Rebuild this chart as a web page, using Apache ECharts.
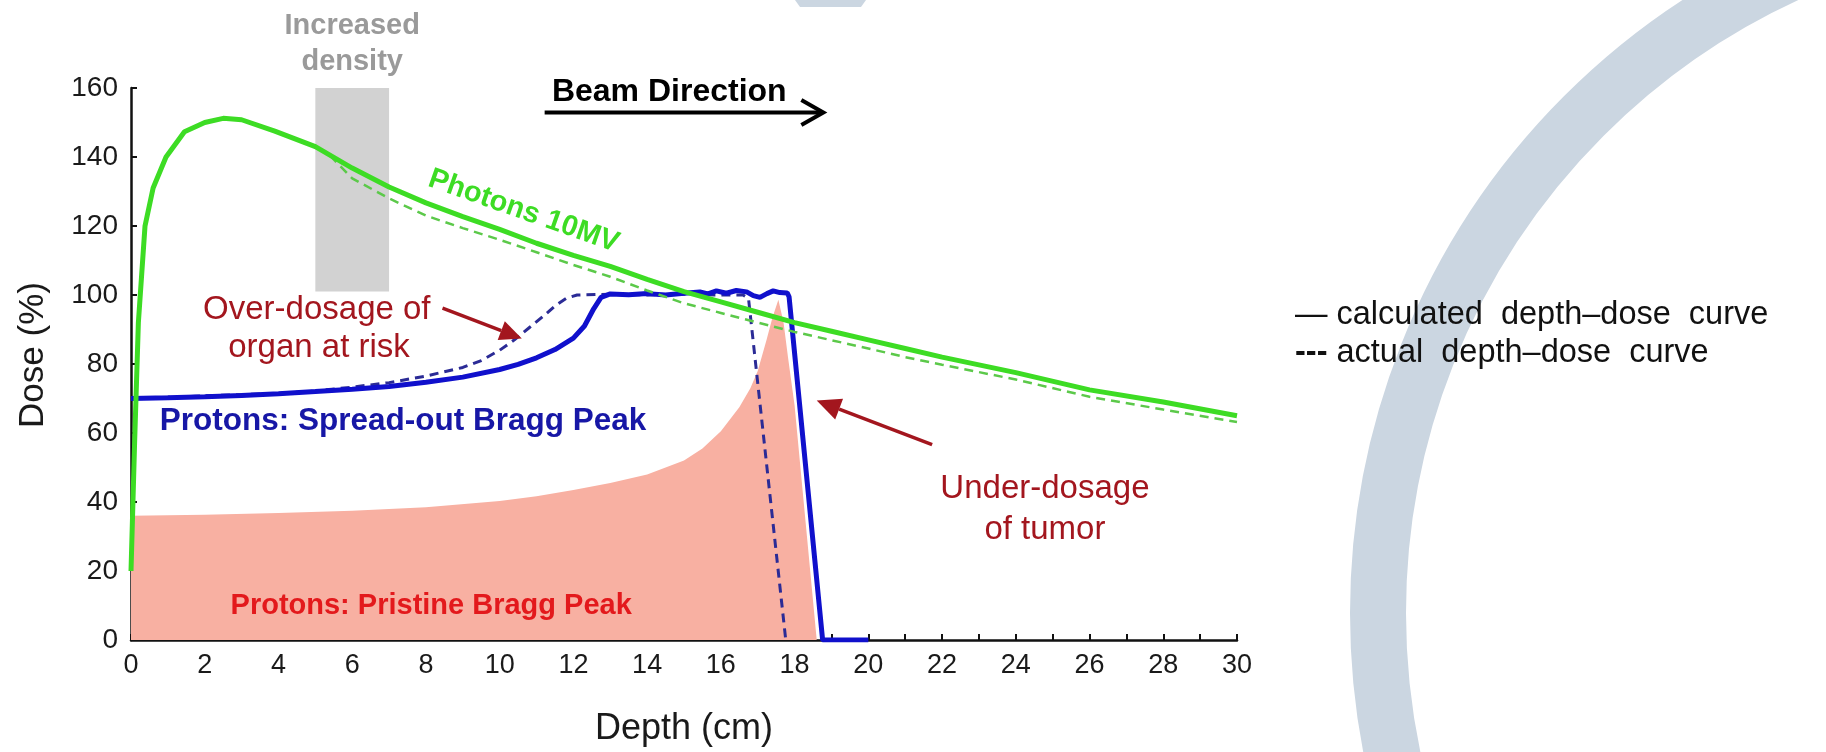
<!DOCTYPE html>
<html>
<head>
<meta charset="utf-8">
<script src="https://cdn.jsdelivr.net/npm/echarts@6/dist/echarts.min.js"></script>
<style>
  html, body { margin: 0; padding: 0; background: #ffffff; }
  #chart { width: 1826px; height: 752px; }
</style>
</head>
<body>
<div id="chart"></div>
<script>
// Depth-dose curves: [depth (cm), dose (%)]
const photonCalculated = [[0,20],[0.1,58],[0.2,92],[0.38,120],[0.6,131],[0.95,140],[1.45,147.3],[2,150],[2.5,151.2],[3,150.8],[3.9,147.5],[5,143],[6,136.8],[7,131.3],[8,126.7],[9,122.7],[10,119],[11,115],[12,111.5],[13,108.3],[14,104.5],[15,101],[16,98],[17,95],[18,92],[19,89.5],[20,87],[21,84.5],[22,82],[24,77.5],[26,72.5],[28,69],[30,65]];
const photonActual = [[5.4,140.4],[6,133.8],[7,128],[8,123],[9,119.4],[10,116],[11,112.4],[12,108.7],[13,105.3],[14,101.3],[15,97.6],[16,94.8],[17,92],[18,89.3],[20,84.5],[21,82],[22,79.8],[24,75.5],[26,70.5],[28,66.8],[30,63.2]];
const sobpCalculated = [[0,70],[1,70.2],[2,70.5],[3,70.9],[4,71.4],[5,72],[6,72.7],[7,73.5],[8,74.7],[9,76.2],[10,78.4],[10.5,79.9],[11,81.8],[11.5,84.2],[12,87.5],[12.3,91],[12.55,96],[12.75,99.3],[13,100.3],[13.5,100.1],[14,100.4],[14.5,100],[15,100.5],[15.43,100.9],[15.65,100.3],[15.88,101.2],[16.15,100.5],[16.42,101.3],[16.7,100.9],[16.88,99.8],[17.06,99.3],[17.25,100.4],[17.42,101.2],[17.6,100.7],[17.8,100.6],[17.85,99.5],[18.76,0],[20,0]];
const sobpActual = [[0,70],[4,71.5],[5,72.2],[6,73.3],[7,74.6],[8,76.5],[9,79],[9.5,81],[10,84],[10.4,87],[10.8,90.5],[11.2,94],[11.5,96.8],[11.8,99],[12.1,100],[13,100.2],[14,100],[15,100.2],[16,100],[16.6,100],[16.75,99],[17.76,0]];
const pristinePeak = [[0,36],[2,36.3],[4,36.8],[6,37.5],[8,38.5],[10,40.3],[11,41.7],[12,43.5],[13,45.5],[14,48],[15,52],[15.5,55.5],[16,60.5],[16.5,67.5],[16.8,73],[17,78],[17.24,87],[17.4,93.5],[17.56,98.6],[17.7,92],[17.82,82],[18,68],[18.3,34],[18.6,0]];
// Shaded region of increased density: depth range and dose range
const densityDepth = [5, 7];
const densityDose = [101, 160];
// Axis labels
const depthLabels = [0,2,4,6,8,10,12,14,16,18,20,22,24,26,28,30];
const doseLabels = [0,20,40,60,80,100,120,140,160];

const FONT = '"Liberation Sans", Arial, Helvetica, sans-serif';
const GREEN = '#3ddc24';
const GREEN_DASH = '#5cc94a';
const BLUE = '#1010cc';
const BLUE_DASH = '#2b2b96';
const SALMON = '#f8b0a2';
const DARK_RED = '#a3161e';

const chart = echarts.init(document.getElementById('chart'), null, { renderer: 'canvas' });

const option = {
  animation: false,
  backgroundColor: '#ffffff',
  grid: { left: 131, right: 589, top: 88, bottom: 104 },
  xAxis: {
    type: 'value', min: 0, max: 30, interval: 1,
    name: 'Depth (cm)', nameLocation: 'middle', nameGap: 71,
    nameTextStyle: { fontSize: 36, color: '#1a1a1a', fontFamily: FONT },
    axisLine: { show: true, onZero: false, lineStyle: { color: '#111', width: 2.5 } },
    axisTick: { show: true, inside: true, length: 6, lineStyle: { color: '#111', width: 2 } },
    axisLabel: {
      fontSize: 27, color: '#1a1a1a', fontFamily: FONT, margin: 12,
      formatter: v => depthLabels.includes(v) ? String(v) : ''
    },
    splitLine: { show: false }
  },
  yAxis: {
    type: 'value', min: 0, max: 160, interval: 20,
    name: 'Dose (%)', nameLocation: 'middle', nameGap: 80,
    nameTextStyle: { fontSize: 35, color: '#1a1a1a', fontFamily: FONT, padding: [0, 0, 0, 18] },
    axisLine: { show: true, lineStyle: { color: '#111', width: 2.5 } },
    axisTick: { show: true, inside: true, length: 6, lineStyle: { color: '#111', width: 2 } },
    axisLabel: {
      fontSize: 28, color: '#1a1a1a', fontFamily: FONT, margin: 13,
      formatter: v => doseLabels.includes(v) ? String(v) : ''
    },
    splitLine: { show: false }
  },
  series: [
    {
      name: 'Protons: Pristine Bragg Peak', type: 'line', data: pristinePeak,
      showSymbol: false, smooth: false, z: 1,
      lineStyle: { width: 0, color: SALMON },
      areaStyle: { color: SALMON, opacity: 1 },
      markArea: {
        silent: true,
        itemStyle: { color: '#d2d2d2', opacity: 1 },
        data: [[{ xAxis: densityDepth[0], yAxis: densityDose[0] }, { xAxis: densityDepth[1], yAxis: densityDose[1] }]]
      }
    },
    {
      name: 'SOBP actual', type: 'line', data: sobpActual, showSymbol: false, z: 3,
      lineStyle: { color: BLUE_DASH, width: 3, type: [9, 6] }
    },
    {
      name: 'SOBP calculated', type: 'line', data: sobpCalculated, showSymbol: false, z: 4,
      lineStyle: { color: BLUE, width: 5 }
    },
    {
      name: 'Photons actual', type: 'line', data: photonActual, showSymbol: false, z: 5,
      lineStyle: { color: GREEN_DASH, width: 2.5, type: [9, 6] }
    },
    {
      name: 'Photons 10MV', type: 'line', data: photonCalculated, showSymbol: false, z: 6,
      lineStyle: { color: GREEN, width: 5 }
    }
  ]
};

chart.setOption(option);

const px = (x, y) => chart.convertToPixel({ gridIndex: 0 }, [x, y]);

function label(text, at, font, fill, align, rotation) {
  const p = px(at[0], at[1]);
  return {
    type: 'text', x: p[0], y: p[1], rotation: rotation || 0, z: 20, silent: true,
    style: { text, font, fill, align: align || 'center', textAlign: align || 'center', verticalAlign: 'middle', textVerticalAlign: 'middle' }
  };
}

function arrow(from, to, color, width, headLen, headHalf) {
  const a = px(from[0], from[1]);
  const b = px(to[0], to[1]);
  const dx = b[0] - a[0], dy = b[1] - a[1];
  const L = Math.hypot(dx, dy), ux = dx / L, uy = dy / L;
  const bx = b[0] - ux * headLen, by = b[1] - uy * headLen;
  return [
    { type: 'line', z: 20, silent: true, shape: { x1: a[0], y1: a[1], x2: bx, y2: by }, style: { stroke: color, lineWidth: width } },
    { type: 'polygon', z: 20, silent: true, shape: { points: [[b[0], b[1]], [bx - uy * headHalf, by + ux * headHalf], [bx + uy * headHalf, by - ux * headHalf]] }, style: { fill: color } }
  ];
}

function beamArrow(x0, x1, y) {
  const a = px(x0, y), b = px(x1, y);
  return [
    { type: 'line', z: 20, silent: true, shape: { x1: a[0], y1: a[1], x2: b[0] - 2, y2: b[1] }, style: { stroke: '#000', lineWidth: 4 } },
    { type: 'polyline', z: 20, silent: true, shape: { points: [[b[0] - 22, b[1] - 12.5], [b[0], b[1]], [b[0] - 22, b[1] + 12.5]] }, style: { stroke: '#000', lineWidth: 4, fill: null } }
  ];
}

const keyStyle = { fill: '#111', align: 'left', textAlign: 'left', verticalAlign: 'middle', textVerticalAlign: 'middle' };

const graphics = [
  // slide decoration behind the figure
  { type: 'circle', z: -10, silent: true, shape: { cx: 2081, cy: 613, r: 703 }, style: { fill: null, stroke: '#cbd6e1', lineWidth: 56 } },
  { type: 'polygon', z: -10, silent: true, shape: { points: [[795, 0], [866, 0], [861, 7], [800, 7]] }, style: { fill: '#cbd6e1' } },

  label('Increased', [6, 178], 'bold 29px ' + FONT, '#9a9a9a'),
  label('density', [6, 167.4], 'bold 29px ' + FONT, '#9a9a9a'),
  label('Beam Direction', [14.6, 158.8], 'bold 32px ' + FONT, '#000'),
  ...beamArrow(11.22, 18.78, 152.9),
  label('Photons 10MV', [10.65, 124.3], 'bold 29px ' + FONT, GREEN, 'center', -19.4 * Math.PI / 180),
  label('Over-dosage of', [5.04, 95.7], '33px ' + FONT, DARK_RED),
  label('organ at risk', [5.1, 84.6], '33px ' + FONT, DARK_RED),
  ...arrow([8.45, 96.2], [10.6, 87.4], DARK_RED, 3.5, 22, 10),
  label('Protons: Spread-out Bragg Peak', [0.78, 63.3], 'bold 31.5px ' + FONT, '#1717a6', 'left'),
  label('Protons: Pristine Bragg Peak', [2.7, 9.9], 'bold 29px ' + FONT, '#e3191c', 'left'),
  label('Under-dosage', [24.79, 43.7], '33px ' + FONT, DARK_RED),
  label('of tumor', [24.79, 32], '33px ' + FONT, DARK_RED),
  ...arrow([21.73, 56.6], [18.6, 69.4], DARK_RED, 3.5, 24, 11),

  // line-style key
  { type: 'text', x: 1295, y: 315, z: 20, silent: true, style: Object.assign({ text: '— calculated  depth–dose  curve', font: '32.5px ' + FONT }, keyStyle) },
  { type: 'text', x: 1295, y: 353, z: 20, silent: true, style: Object.assign({ text: '{b|---} actual  depth–dose  curve', font: '32.5px ' + FONT, rich: { b: { font: 'bold 32.5px ' + FONT, fill: '#111' } } }, keyStyle) }
];

chart.setOption({ graphic: { elements: graphics } });
</script>
</body>
</html>
